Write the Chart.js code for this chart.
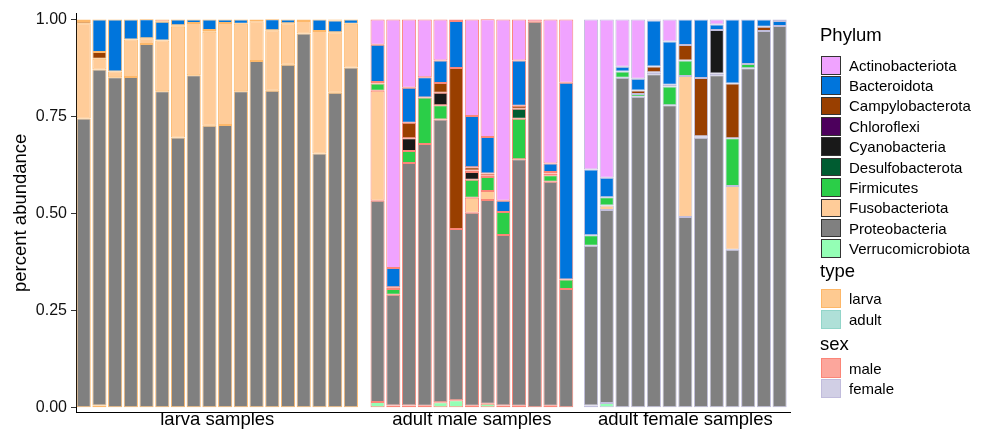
<!DOCTYPE html>
<html>
<head>
<meta charset="utf-8">
<script src="https://cdn.jsdelivr.net/npm/chart.js@4.4.1/dist/chart.umd.min.js"></script>
<style>
html,body{margin:0;padding:0;background:#fff;}
body{width:986px;height:429px;position:relative;overflow:hidden;font-family:"Liberation Sans",Arial,Helvetica,sans-serif;}
#wrap{position:absolute;left:0;top:0;width:800px;height:429px;}
#legend{position:absolute;left:0;top:0;width:986px;height:429px;}
.lt{position:absolute;font-size:18.5px;line-height:1;color:#000;white-space:nowrap;}
.key{position:absolute;box-sizing:border-box;width:20px;}
.lab{position:absolute;font-size:15px;line-height:1;color:#000;display:flex;align-items:center;white-space:nowrap;}
</style>
</head>
<body>
<div id="wrap"><canvas id="c" width="800" height="429"></canvas></div>
<div id="legend"></div>
<script>
// ---------- DATA ----------
const facetNames = ['larva samples', 'adult male samples', 'adult female samples'];
// facet index of each of the 44 samples (18 larva, 13 adult male, 13 adult female)
const sampleFacet = [0,0,0,0,0,0,0,0,0,0,0,0,0,0,0,0,0,0,
                     1,1,1,1,1,1,1,1,1,1,1,1,1,
                     2,2,2,2,2,2,2,2,2,2,2,2,2];
const sampleLabels = ['L1','L2','L3','L4','L5','L6','L7','L8','L9','L10','L11','L12','L13','L14','L15','L16','L17','L18',
                      'M1','M2','M3','M4','M5','M6','M7','M8','M9','M10','M11','M12','M13',
                      'F1','F2','F3','F4','F5','F6','F7','F8','F9','F10','F11','F12','F13'];

const phyla = ['Actinobacteriota','Bacteroidota','Campylobacterota','Chloroflexi','Cyanobacteria',
               'Desulfobacterota','Firmicutes','Fusobacteriota','Proteobacteria','Verrucomicrobiota'];
const phylumColors = ['#F0A3FF','#0075DC','#993F00','#4C005C','#191919','#005C31','#2BCE48','#FFCC99','#808080','#94FFB5'];

const actinobacteriota = [0,0,0,0,0,0.006,0,0,0,0,0,0,0,0,0,0,0.003,0,
  0.065,0.64,0.176,0.149,0.106,0.004,0.249,0.303,0.467,0.106,0.006,0.371,0.163,
  0.386,0.408,0.122,0.153,0.003,0.057,0,0,0.013,0,0,0,0.004];
const bacteroidota = [0.004,0.084,0.134,0.052,0.049,0.048,0.015,0.009,0.027,0.009,0.011,0.005,0.0285,0.010,0.004,0.030,0.030,0.011,
  0.096,0.050,0.090,0.052,0.058,0.121,0.132,0.094,0.029,0.116,0,0.022,0.507,
  0.169,0.050,0.012,0.030,0.118,0.111,0.066,0.151,0.014,0.165,0.115,0.019,0.013];
const campylobacterota = [0.006,0.017,0,0,0,0,0.004,0,0.005,0,0,0,0,0,0,0,0,0,
  0.004,0.004,0.040,0,0.025,0.415,0.008,0.006,0,0.008,0,0.004,0,
  0,0,0,0.009,0.015,0.005,0.040,0.150,0,0.141,0,0.011,0];
const chloroflexi = [0,0,0,0,0,0,0,0,0,0,0,0,0,0,0,0,0,0,
  0,0,0,0,0,0,0.004,0.0035,0,0,0,0,0,
  0,0,0,0,0,0,0,0,0,0,0,0,0];
const cyanobacteria = [0,0,0,0,0,0,0,0,0,0,0,0,0,0,0,0,0,0,
  0,0,0.033,0,0.032,0,0.020,0,0,0,0,0.004,0,
  0,0,0,0,0,0,0,0,0.112,0,0,0,0];
const desulfobacterota = [0,0,0,0,0,0,0,0,0,0,0,0,0,0,0,0,0,0,
  0,0,0,0,0,0,0,0,0,0.026,0,0,0,
  0,0,0,0,0,0,0,0,0,0,0,0,0];
const firmicutes = [0,0,0,0,0,0,0,0,0,0,0,0,0,0,0,0,0,0,
  0.019,0.015,0.031,0.120,0.037,0,0.046,0.036,0.059,0.104,0,0.017,0.024,
  0.0275,0.021,0.016,0.007,0.005,0.048,0.040,0.004,0.005,0.123,0.011,0,0];
const fusobacteriota = [0.245,0.028,0.015,0.096,0.0144,0.131,0.285,0.135,0.242,0.263,0.174,0.102,0.156,0.107,0.032,0.315,0.156,0.113,
  0.283,0,0,0,0,0,0.039,0.023,0,0,0,0,0,
  0,0.012,0,0,0,0,0.363,0,0,0.164,0,0,0];
const proteobacteria = [0.745,0.865,0.851,0.852,0.937,0.815,0.696,0.856,0.726,0.728,0.815,0.893,0.816,0.883,0.964,0.655,0.811,0.876,
  0.518,0.285,0.624,0.674,0.728,0.441,0.497,0.525,0.439,0.635,0.994,0.577,0.306,
  0.411,0.497,0.850,0.801,0.859,0.779,0.491,0.695,0.856,0.407,0.874,0.970,0.983];
const verrucomicrobiota = [0,0.006,0,0,0,0,0,0,0,0,0,0,0,0,0,0,0,0,
  0.015,0.006,0.006,0.005,0.014,0.019,0.005,0.010,0.006,0.005,0,0.005,0,
  0.006,0.012,0,0,0,0,0,0,0,0,0,0,0];

const phylumValues = [actinobacteriota,bacteroidota,campylobacterota,chloroflexi,cyanobacteria,
                      desulfobacterota,firmicutes,fusobacteriota,proteobacteria,verrucomicrobiota];

const typeNames = ['larva','adult'];
const typeColors = ['#FDB462','#8DD3C7'];
const sexNames = ['male','female'];
const sexColors = ['#FB8072','#BEBADA'];
// outline colour of each facet: larva type, male sex, female sex
const facetOutline = [typeColors[0], sexColors[0], sexColors[1]];

const yTicks = [0, 0.25, 0.5, 0.75, 1];

// ---------- LAYOUT HELPERS ----------
const facetShift = [0, 0.7, 1.28];   // extra spacing (in bar slots) between facet panels
function rgba(hex, a){
  const n = parseInt(hex.slice(1),16);
  return `rgba(${(n>>16)&255},${(n>>8)&255},${n&255},${a})`;
}
const xPos = sampleFacet.map((f,i)=> i + facetShift[f]);
const facetCenters = facetNames.map((_,f)=>{
  const xs = xPos.filter((_,i)=>sampleFacet[i]===f);
  return (Math.min(...xs)+Math.max(...xs))/2;
});
const outlineColors = sampleFacet.map(f=>rgba(facetOutline[f],0.95));

// stack order: last phylum at bottom
const datasets = [];
for (let p = phyla.length-1; p >= 0; p--) {
  datasets.push({
    label: phyla[p],
    data: phylumValues[p].map((v,i)=>({x:xPos[i], y:v})),
    backgroundColor: phylumColors[p],
    borderColor: outlineColors,
    borderWidth: 1,
    borderSkipped: false,
    inflateAmount: 0,
    barPercentage: 0.9,
    categoryPercentage: 1.0
  });
}

const FONT = '"Liberation Sans", Arial, Helvetica, sans-serif';
new Chart(document.getElementById('c'), {
  type: 'bar',
  data: { datasets },
  options: {
    responsive: false,
    animation: false,
    layout: { padding: { left: 0, top: 13, right: 10, bottom: 0 } },
    plugins: { legend: { display: false }, tooltip: { enabled: false } },
    scales: {
      x: {
        type: 'linear',
        stacked: true,
        offset: false,
        min: -0.49,
        max: xPos[xPos.length-1] + 0.66,
        grid: { display: false, drawTicks: false, offset: false },
        border: { display: true, color: '#000', width: 1 },
        afterBuildTicks: s => { s.ticks = facetCenters.map(v=>({value:v})); },
        afterFit: s => { s.height = 17; },
        ticks: {
          autoSkip: false, maxRotation: 0, minRotation: 0,
          padding: -3,
          color: '#000',
          font: { family: FONT, size: 18.5 },
          callback: (v, i) => facetNames[i]
        }
      },
      y: {
        stacked: true,
        min: -0.011,
        max: 1.015,
        afterBuildTicks: s => { s.ticks = yTicks.map(v=>({value:v})); },
        afterFit: s => { s.width = 76; },
        grid: { drawOnChartArea: false, drawTicks: true, tickLength: 5, color: '#333' },
        border: { display: true, color: '#000', width: 1 },
        ticks: {
          padding: 4,
          color: '#111',
          font: { family: FONT, size: 16 },
          callback: v => Number(v).toFixed(2)
        },
        title: {
          display: true,
          text: 'percent abundance',
          color: '#000',
          font: { family: FONT, size: 18.5 },
          padding: { top: 10, bottom: 0 }
        }
      }
    }
  }
});

// ---------- LEGEND (HTML) ----------
const lg = document.getElementById('legend');
function addTitle(text, top){
  const d = document.createElement('div');
  d.className = 'lt'; d.textContent = text;
  d.style.left = '820px'; d.style.top = top + 'px';
  lg.appendChild(d);
}
function addItem(label, fill, border, top, h){
  const k = document.createElement('div');
  k.className = 'key';
  k.style.left = '820.5px'; k.style.top = top + 'px'; k.style.height = h + 'px';
  k.style.background = fill; k.style.border = '1px solid ' + border;
  lg.appendChild(k);
  const t = document.createElement('div');
  t.className = 'lab'; t.textContent = label;
  t.style.left = '849px'; t.style.top = top + 'px'; t.style.height = h + 'px';
  lg.appendChild(t);
}
addTitle('Phylum', 25.8);
phyla.forEach((p,i)=> addItem(p, phylumColors[i], '#333', 56 + i*20.37, 18.5));
addTitle('type', 262);
typeNames.forEach((n,i)=> addItem(n, rgba(typeColors[i],0.7), rgba(typeColors[i],0.85), 289.3 + i*20.5, 19));
addTitle('sex', 335);
sexNames.forEach((n,i)=> addItem(n, rgba(sexColors[i],0.7), rgba(sexColors[i],0.85), 358.3 + i*20.3, 19.5));
</script>
</body>
</html>
